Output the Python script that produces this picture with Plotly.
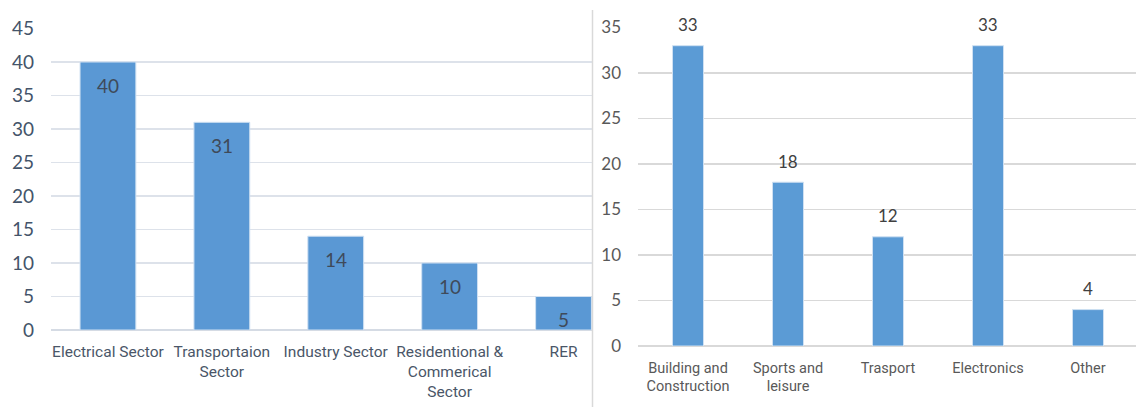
import plotly.graph_objects as go

# ---- data ----
left_categories = ["Electrical Sector", "Transportaion<br>Sector", "Industry Sector",
                   "Residentional &<br>Commerical<br>Sector", "RER"]
left_values = [40, 31, 14, 10, 5]
left_ticks = [0, 5, 10, 15, 20, 25, 30, 35, 40, 45]

right_categories = ["Building and<br>Construction", "Sports and<br>leisure", "Trasport",
                    "Electronics", "Other"]
right_values = [33, 18, 12, 33, 4]
right_ticks = [0, 5, 10, 15, 20, 25, 30, 35]

W, H = 1136, 407
NARROW = "Liberation Sans Narrow, Arial Narrow, Roboto, sans-serif"
NUM = "Lato, Liberation Sans, sans-serif"

fig = go.Figure()

fig.add_trace(go.Bar(
    x=list(range(len(left_values))), y=left_values,
    marker=dict(color="#5a98d4", line=dict(color="#cfe0f2", width=1)),
    width=0.49, xaxis="x", yaxis="y", showlegend=False, hoverinfo="skip",
))
fig.add_trace(go.Bar(
    x=list(range(len(right_values))), y=right_values,
    marker=dict(color="#5b9bd5", line=dict(color="#cfe0f2", width=1)),
    width=0.31, xaxis="x2", yaxis="y2", showlegend=False, hoverinfo="skip",
))

annotations = []
for i, v in enumerate(left_values):
    annotations.append(dict(x=i, y=v, xref="x", yref="y", text=str(v), showarrow=False,
                            yanchor="middle", yshift=-23,
                            font=dict(family=NUM, size=19, color="#3f4a5a")))
for i, v in enumerate(right_values):
    annotations.append(dict(x=i, y=v, xref="x2", yref="y2", text=str(v), showarrow=False,
                            yanchor="middle", yshift=21,
                            font=dict(family=NUM, size=17, color="#404040")))

fig.update_layout(
    width=W, height=H, autosize=False,
    margin=dict(l=0, r=0, t=0, b=0, autoexpand=False),
    paper_bgcolor="white", plot_bgcolor="white",
    bargap=0.5,
    annotations=annotations,
    xaxis=dict(domain=[51 / W, 592 / W], range=[-0.5, 4.25], automargin=False,
               tickmode="array", tickvals=list(range(len(left_categories))),
               ticktext=left_categories, showgrid=False, zeroline=False,
               showline=False, ticks="", ticklabelstandoff=10,
               tickfont=dict(family=NARROW, size=15.5, color="#4a5668"),
               fixedrange=True),
    yaxis=dict(domain=[(H - 330) / H, (H - 28.5) / H], range=[0, 45], automargin=False,
               tickmode="array", tickvals=left_ticks,
               showgrid=True, gridcolor="#dde2ea", gridwidth=1.5,
               zeroline=True, zerolinecolor="#d5dbe4", zerolinewidth=1.5,
               showline=False, ticks="", ticklabelstandoff=16,
               tickfont=dict(family=NUM, size=19, color="#44546a"),
               fixedrange=True),
    xaxis2=dict(domain=[638 / W, 1.0], range=[-0.5, 4.48], automargin=False,
                tickmode="array", tickvals=list(range(len(right_categories))),
                ticktext=right_categories, showgrid=False, zeroline=False,
                showline=False, ticks="", ticklabelstandoff=11,
                tickfont=dict(family=NARROW, size=14.5, color="#595959"),
                anchor="y2", fixedrange=True),
    yaxis2=dict(domain=[(H - 346) / H, (H - 27.5) / H], range=[0, 35], automargin=False,
                tickmode="array", tickvals=right_ticks,
                showgrid=True, gridcolor="#d9d9d9", gridwidth=1.5,
                zeroline=True, zerolinecolor="#d9d9d9", zerolinewidth=1.5,
                showline=False, ticks="", ticklabelstandoff=16,
                tickfont=dict(family=NUM, size=17, color="#595959"),
                anchor="x2", fixedrange=True),
    shapes=[dict(type="line", xref="paper", yref="paper",
                 x0=592.5 / W, x1=592.5 / W, y0=0, y1=(H - 10) / H,
                 line=dict(color="#d9d9d9", width=1.5))],
)

fig.write_html("out.html", config={"displayModeBar": False, "staticPlot": True},
               post_script="document.body.style.margin='0';document.body.style.overflow='hidden';")
